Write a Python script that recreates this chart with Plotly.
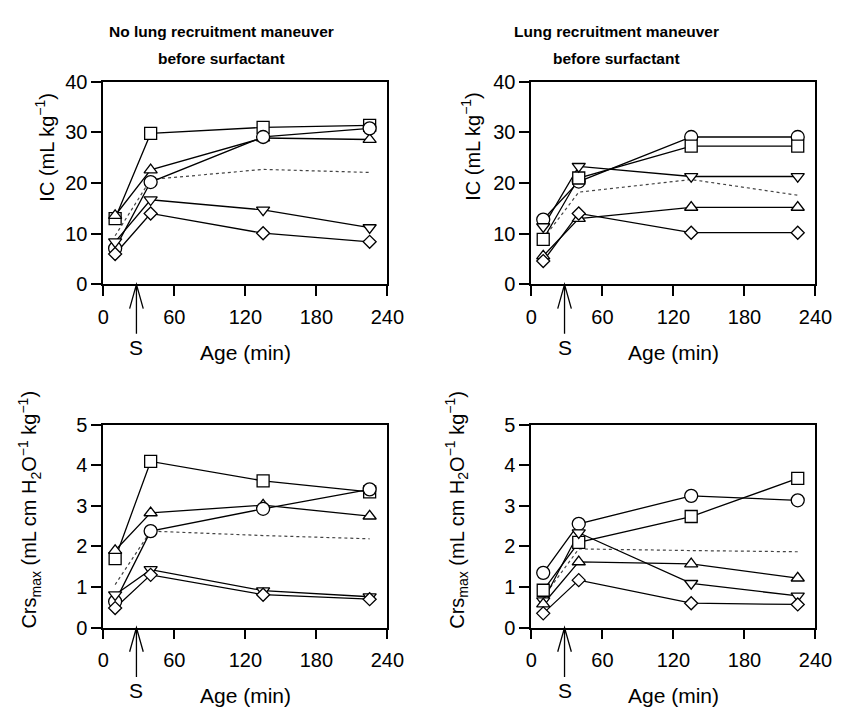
import plotly.graph_objects as go

# ---------------- data ----------------
TIME_MIN = [10, 40, 135, 225]
SURFACTANT_MIN = 28
X_TICKS = [0, 60, 120, 180, 240]
IC_TICKS = [0, 10, 20, 30, 40]
CRS_TICKS = [0, 1, 2, 3, 4, 5]

# IC, no lung recruitment maneuver
ic_norm_square = [13.0, 29.8, 31.0, 31.4]
ic_norm_tri_up = [13.6, 22.6, 28.9, 28.6]
ic_norm_circle = [7.1, 20.2, 29.1, 30.8]
ic_norm_tri_down = [8.4, 16.7, 14.7, 11.2]
ic_norm_diamond = [6.0, 14.0, 10.1, 8.4]
ic_norm_mean = [9.6, 20.7, 22.7, 22.1]

# IC, lung recruitment maneuver
ic_rm_circle = [12.8, 20.3, 29.1, 29.1]
ic_rm_square = [8.9, 21.0, 27.3, 27.3]
ic_rm_tri_down = [11.4, 23.3, 21.3, 21.3]
ic_rm_tri_up = [5.6, 13.0, 15.2, 15.2]
ic_rm_diamond = [4.6, 14.0, 10.2, 10.2]
ic_rm_mean = [9.0, 18.2, 20.7, 17.6]

# Crs max, no lung recruitment maneuver
crs_norm_square = [1.70, 4.10, 3.62, 3.35]
crs_norm_tri_up = [1.90, 2.83, 3.02, 2.75]
crs_norm_circle = [0.64, 2.38, 2.93, 3.41]
crs_norm_tri_down = [0.81, 1.43, 0.91, 0.76]
crs_norm_diamond = [0.48, 1.30, 0.81, 0.70]
crs_norm_mean = [1.06, 2.38, 2.27, 2.19]

# Crs max, lung recruitment maneuver
crs_rm_circle = [1.35, 2.56, 3.25, 3.14]
crs_rm_square = [0.92, 2.10, 2.74, 3.68]
crs_rm_tri_down = [0.66, 2.34, 1.09, 0.78]
crs_rm_tri_up = [0.58, 1.62, 1.57, 1.22]
crs_rm_diamond = [0.35, 1.17, 0.60, 0.57]
crs_rm_mean = [0.75, 1.94, 1.90, 1.87]

TITLE_LEFT = ["No lung recruitment maneuver", "before surfactant"]
TITLE_RIGHT = ["Lung recruitment maneuver", "before surfactant"]
IC_LABEL = "IC (mL kg<sup>−1</sup>)"
CRS_LABEL = "Crs<sub>max</sub> (mL cm H<sub>2</sub>O<sup>−1</sup> kg<sup>−1</sup>)"
X_LABEL = "Age (min)"

# ---------------- styles / layout ----------------
W, H = 850, 719
FONT = "Liberation Sans, Arial, Helvetica, sans-serif"
TITLE_FONT = "Liberation Sans, Arial, Helvetica, sans-serif"
SIZES = {"square": 12, "circle": 13, "diamond": 10, "triangle-up": 11.5, "triangle-down": 11.5}

def px_x(a, b):
    return [a / W, b / W]

def px_y(top, bottom):
    return [(H - bottom) / H, (H - top) / H]

panels = [
    dict(xa="x", ya="y", xd=px_x(100, 392), yd=px_y(73, 282), yr=[0, 40], yt=IC_TICKS,
         series=[("square", ic_norm_square), ("triangle-up", ic_norm_tri_up),
                 ("circle", ic_norm_circle), ("triangle-down", ic_norm_tri_down),
                 ("diamond", ic_norm_diamond)], mean=ic_norm_mean),
    dict(xa="x2", ya="y2", xd=px_x(540, 832), yd=px_y(73, 282), yr=[0, 40], yt=IC_TICKS,
         series=[("circle", ic_rm_circle), ("square", ic_rm_square),
                 ("triangle-down", ic_rm_tri_down), ("triangle-up", ic_rm_tri_up),
                 ("diamond", ic_rm_diamond)], mean=ic_rm_mean),
    dict(xa="x3", ya="y3", xd=px_x(100, 392), yd=px_y(427, 636), yr=[0, 5], yt=CRS_TICKS,
         series=[("square", crs_norm_square), ("triangle-up", crs_norm_tri_up),
                 ("circle", crs_norm_circle), ("triangle-down", crs_norm_tri_down),
                 ("diamond", crs_norm_diamond)], mean=crs_norm_mean),
    dict(xa="x4", ya="y4", xd=px_x(540, 832), yd=px_y(427, 636), yr=[0, 5], yt=CRS_TICKS,
         series=[("circle", crs_rm_circle), ("square", crs_rm_square),
                 ("triangle-down", crs_rm_tri_down), ("triangle-up", crs_rm_tri_up),
                 ("diamond", crs_rm_diamond)], mean=crs_rm_mean),
]

fig = go.Figure()
layout = dict(
    width=W, height=H, margin=dict(l=0, r=0, t=0, b=0, pad=0),
    paper_bgcolor="white", plot_bgcolor="white", showlegend=False,
    font=dict(family=FONT, size=20, color="black"),
)
annotations = []
shapes = []

PANEL_H = 209.0
PANEL_W = 292.0
X_MAX = 240.0

for p in panels:
    # connecting lines first (under markers)
    fig.add_trace(go.Scatter(x=TIME_MIN, y=p["mean"], mode="lines", xaxis=p["xa"], yaxis=p["ya"],
                             line=dict(color="#444444", width=1.2, dash="dot"), hoverinfo="skip"))
    for sym, vals in p["series"]:
        fig.add_trace(go.Scatter(x=TIME_MIN, y=vals, mode="lines", xaxis=p["xa"], yaxis=p["ya"],
                                 line=dict(color="black", width=1.3), hoverinfo="skip"))
    for sym, vals in p["series"]:
        fig.add_trace(go.Scatter(x=TIME_MIN, y=vals, mode="markers", xaxis=p["xa"], yaxis=p["ya"],
                                 cliponaxis=False,
                                 marker=dict(symbol=sym, size=SIZES[sym], color="white",
                                             line=dict(color="black", width=1.3)),
                                 hoverinfo="skip"))
    xkey = "xaxis" + p["xa"][1:]
    ykey = "yaxis" + p["ya"][1:]
    common = dict(showline=True, linecolor="black", linewidth=1.8, mirror=True,
                  ticks="outside", ticklen=10, tickwidth=1.5, tickcolor="black",
                  showgrid=False, zeroline=False, fixedrange=True,
                  tickfont=dict(family=FONT, size=20, color="black"))
    layout[xkey] = dict(common, domain=p["xd"], range=[0, X_MAX], tickvals=X_TICKS,
                        anchor=p["ya"], ticklabelstandoff=4)
    layout[ykey] = dict(common, domain=p["yd"], range=p["yr"], tickvals=p["yt"],
                        anchor=p["xa"])
    # surfactant arrow (open V head) below the x axis
    sx = SURFACTANT_MIN / X_MAX
    hw = 7 / PANEL_W
    y_tail = -51 / PANEL_H
    y_wing = -25 / PANEL_H
    shapes.append(dict(type="path", xref=p["xa"] + " domain", yref=p["ya"] + " domain",
                       path=f"M{sx},0 L{sx},{y_tail} M{sx - hw},{y_wing} L{sx},0 L{sx + hw},{y_wing}",
                       line=dict(color="black", width=1.3)))
    annotations.append(dict(text="S", xref=p["xa"], x=SURFACTANT_MIN, yref=p["ya"] + " domain",
                            y=-65 / PANEL_H, showarrow=False, xanchor="center", yanchor="middle",
                            font=dict(family=FONT, size=21, color="black")))
    annotations.append(dict(text=X_LABEL, xref=p["xa"] + " domain", x=0.5, yref=p["ya"] + " domain",
                            y=-70 / PANEL_H, showarrow=False, xanchor="center", yanchor="middle",
                            font=dict(family=FONT, size=21, color="black")))

# y axis titles
for text, xc, yc in [(IC_LABEL, 40, 140), (IC_LABEL, 478, 140),
                     (CRS_LABEL, 24, 514), (CRS_LABEL, 463, 514)]:
    annotations.append(dict(text=text, xref="paper", yref="paper", x=xc / W, y=1 - yc / H,
                            textangle=-90, showarrow=False, xanchor="center", yanchor="middle",
                            font=dict(family=FONT, size=20, color="black")))

# column titles (two separately placed lines each)
for lines, xc in [(TITLE_LEFT, 221), (TITLE_RIGHT, 627)]:
    for line, yc in zip(lines, [21, 49]):
        annotations.append(dict(text=line, xref="paper", yref="paper", x=xc / W, y=1 - yc / H,
                                showarrow=False, xanchor="center", yanchor="middle",
                                font=dict(family=TITLE_FONT, size=15.5, color="black",
                                          weight="bold")))

layout["annotations"] = annotations
layout["shapes"] = shapes
fig.update_layout(**layout)

POST = "document.body.style.margin='0px';document.body.style.overflow='hidden';"
fig.write_html("out.html", config={"displayModeBar": False}, post_script=POST)
